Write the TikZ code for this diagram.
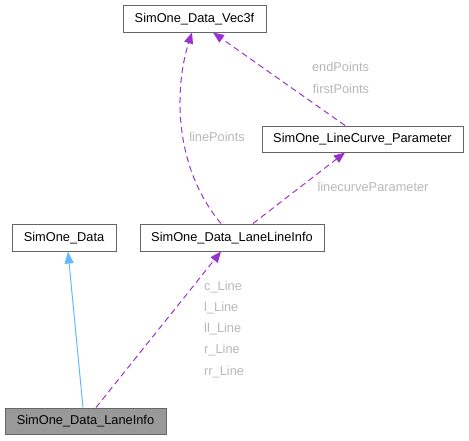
\documentclass[tikz,border=0pt]{standalone}
\usepackage{fontspec}
\setmainfont{Liberation Sans}
\usetikzlibrary{arrows.meta}
\definecolor{edgepurple}{HTML}{9A32CD}
\definecolor{edgeblue}{HTML}{63B8FF}
\definecolor{boxborder}{HTML}{666666}
\definecolor{labelgray}{HTML}{B8B8B8}
\definecolor{curfill}{HTML}{999999}
\begin{document}
\begin{tikzpicture}[x=1pt,y=-1pt,
  every node/.style={font=\fontsize{12.8}{15}\selectfont},
  classbox/.style={draw=boxborder,fill=white,line width=1pt,inner sep=0pt,text height=9.5pt,text depth=2.5pt},
  curbox/.style={classbox,fill=curfill},
  lbl/.style={text=labelgray,inner sep=0pt,text height=9.5pt,text depth=2.5pt},
  usearrow/.style={draw=edgepurple,line width=1pt,dash pattern=on 6pt off 4pt,-{Triangle[length=11pt,width=9pt,fill=edgepurple]}},
  inhearrow/.style={draw=edgeblue,line width=1pt,-{Triangle[length=12pt,width=9pt,fill=edgeblue]}}]
\useasboundingbox (0,0) rectangle (469,440);
\node[classbox,minimum width=143pt,minimum height=27pt] (vec) at (194.5,18.5) {SimOne\_Data\_Vec3f};
\node[classbox,minimum width=201pt,minimum height=26pt] (lcp) at (362.5,139) {SimOne\_LineCurve\_Parameter};
\node[classbox,minimum width=104pt,minimum height=27pt] (sd) at (64,237.5) {SimOne\_Data};
\node[classbox,minimum width=184pt,minimum height=27pt] (lli) at (232,237.5) {SimOne\_Data\_LaneLineInfo};
\node[curbox,minimum width=161pt,minimum height=26pt] (li) at (85.5,421) {SimOne\_Data\_LaneInfo};

\draw[inhearrow] ([xshift=-2.5pt]li.north) -- ([xshift=4pt]sd.south);
\draw[usearrow] ([xshift=10.5pt]li.north) -- ([xshift=-11pt]lli.south);
\draw[usearrow] ([xshift=-11pt]lli.north) .. controls (172,165) and (175,85) .. ([xshift=-2.5pt]vec.south);
\draw[usearrow] ([xshift=21pt]lli.north) -- ([xshift=-17.5pt]lcp.south);
\draw[usearrow] ([xshift=-17.5pt]lcp.north) -- ([xshift=18.5pt]vec.south);

\node[lbl] (l1) at (340.5,68) {endPoints};
\node[lbl] (l2) at (341,90) {firstPoints};
\node[lbl] (l3) at (217,138) {linePoints};
\node[lbl] (l4) at (373,188) {linecurveParameter};
\node[lbl,anchor=west] (l5) at (204,287) {c\_Line};
\node[lbl,anchor=west] (l6) at (204,308) {l\_Line};
\node[lbl,anchor=west] (l7) at (204,329) {ll\_Line};
\node[lbl,anchor=west] (l8) at (204,350) {r\_Line};
\node[lbl,anchor=west] (l9) at (204,371.5) {rr\_Line};
\end{tikzpicture}
\end{document}
